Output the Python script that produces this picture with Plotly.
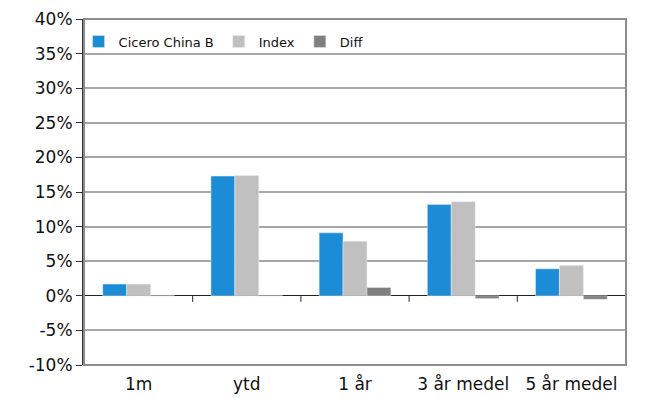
import plotly.graph_objects as go

# Return periods and series values (percent)
categories = ["1m", "ytd", "1 år", "3 år medel", "5 år medel"]
cicero = [1.7, 17.3, 9.1, 13.2, 3.9]
index = [1.7, 17.4, 7.9, 13.6, 4.4]
diff = [0.0, 0.0, 1.2, -0.4, -0.5]

y_ticks = list(range(-10, 45, 5))
y_labels = [f"{v}%" for v in y_ticks]

fig = go.Figure()
fig.add_bar(name="Cicero China B", x=categories, y=cicero, marker_color="#1c8cd6")
fig.add_bar(name="Index", x=categories, y=index, marker_color="#c0c0c0")
fig.add_bar(name="Diff", x=categories, y=diff, marker_color="#7f7f7f")

font = "DejaVu Sans, Verdana, sans-serif"

# small downward tick marks on the zero line at category boundaries
shapes = []
for i in range(len(categories) + 1):
    shapes.append(dict(
        type="line", xref="x", yref="y", x0=i - 0.5, x1=i - 0.5,
        ysizemode="pixel", yanchor=0, y0=0, y1=-6,
        line=dict(color="#222222", width=1), layer="above",
    ))
# grey plot-area frame
shapes.append(dict(
    type="rect", xref="paper", yref="paper", x0=0, x1=1, y0=0, y1=1,
    line=dict(color="#8c8c8c", width=2), layer="above",
))

fig.update_layout(
    width=647, height=398,
    margin=dict(l=84, r=21, t=19, b=33),
    paper_bgcolor="white", plot_bgcolor="white",
    barmode="group", bargap=0.337, bargroupgap=0,
    font=dict(family=font, color="#111111"),
    shapes=shapes,
    legend=dict(
        orientation="h", x=-0.01, y=0.935, xanchor="left", yanchor="middle",
        bgcolor="rgba(0,0,0,0)", font=dict(size=13, family=font, color="#111111"),
        itemwidth=30, tracegroupgap=0,
    ),
    xaxis=dict(
        showline=False, showgrid=False, ticks="", automargin=False,
        tickfont=dict(size=17, family=font), ticklabelstandoff=7,
    ),
    yaxis=dict(
        range=[-10, 40], tickmode="array", tickvals=y_ticks, ticktext=y_labels,
        automargin=False,
        showgrid=True, gridcolor="#a6a6a6", gridwidth=1.5,
        zeroline=True, zerolinecolor="#222222", zerolinewidth=1.2,
        showline=True, linecolor="#333333", linewidth=2,
        ticks="outside", ticklen=6, tickcolor="#333333",
        tickfont=dict(size=17, family=font),
    ),
)

fig.write_html("out.html")
